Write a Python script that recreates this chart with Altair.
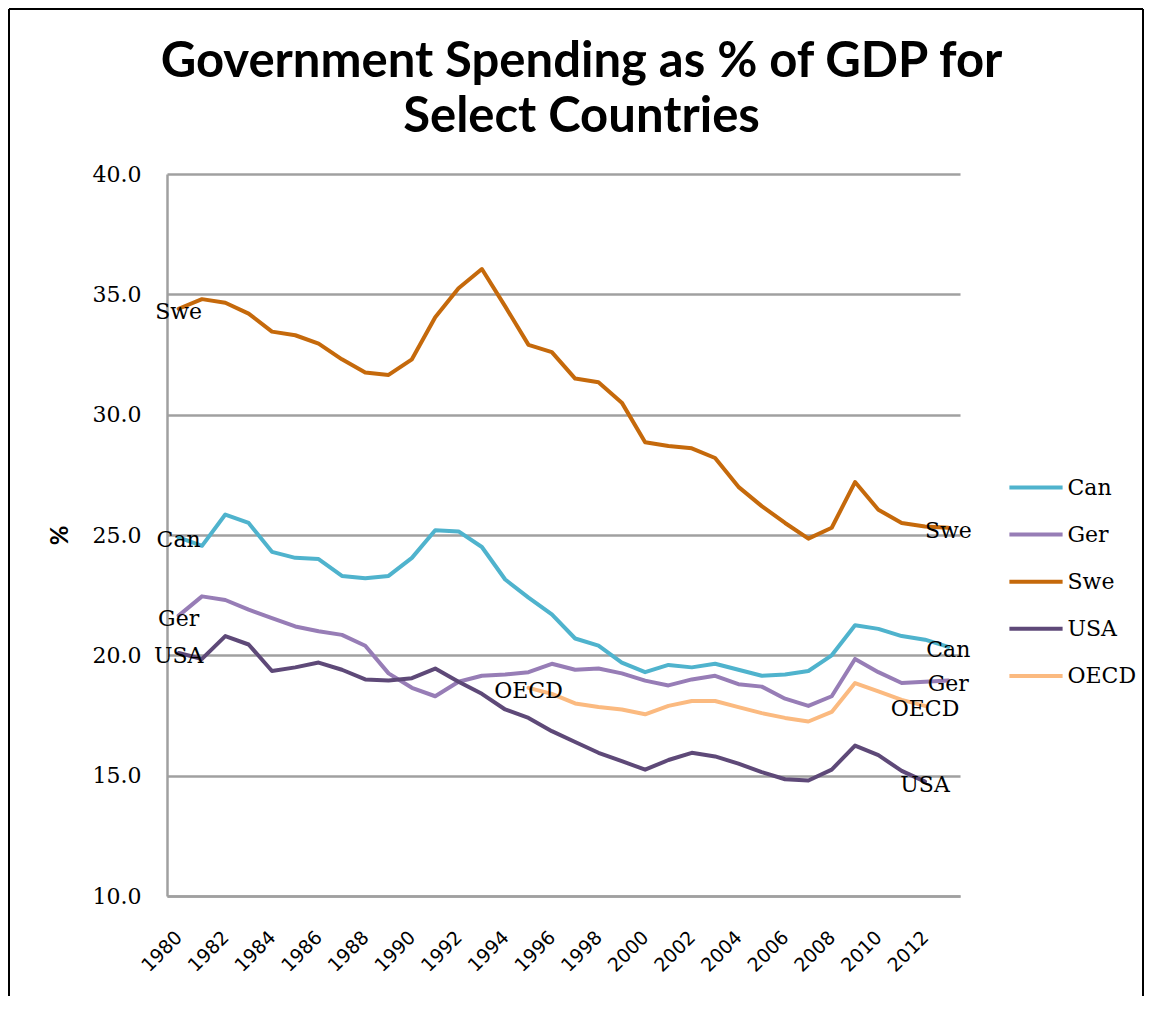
import altair as alt
import pandas as pd

years = list(range(1980, 2014))
series_names = ["Can", "Ger", "Swe", "USA", "OECD"]
series_colors = ["#4FB3CD", "#977DB6", "#C5690B", "#5E4978", "#FBBA80"]

can = [24.9, 24.55, 25.85, 25.5, 24.3, 24.05, 24.0, 23.3, 23.2, 23.3, 24.05, 25.2,
       25.15, 24.5, 23.15, 22.4, 21.7, 20.7, 20.4, 19.7, 19.3, 19.6, 19.5, 19.65,
       19.4, 19.15, 19.2, 19.35, 20.0, 21.25, 21.1, 20.8, 20.65, 20.35]
ger = [21.65, 22.45, 22.3, 21.9, 21.55, 21.2, 21.0, 20.85, 20.4, 19.25, 18.65, 18.3,
       18.9, 19.15, 19.2, 19.3, 19.65, 19.4, 19.45, 19.25, 18.95, 18.75, 19.0, 19.15,
       18.8, 18.7, 18.2, 17.9, 18.3, 19.85, 19.3, 18.85, 18.9, 18.95]
swe = [34.4, 34.8, 34.65, 34.2, 33.45, 33.3, 32.95, 32.3, 31.75, 31.65, 32.3, 34.05,
       35.25, 36.05, 34.5, 32.9, 32.6, 31.5, 31.35, 30.5, 28.85, 28.7, 28.6, 28.2,
       27.0, 26.2, 25.5, 24.85, 25.3, 27.2, 26.05, 25.5, 25.35, 25.3]
usa = [20.1, 19.85, 20.8, 20.45, 19.35, 19.5, 19.7, 19.4, 19.0, 18.95, 19.05, 19.45,
       18.9, 18.4, 17.75, 17.4, 16.85, 16.4, 15.95, 15.6, 15.25, 15.65, 15.95, 15.8,
       15.5, 15.15, 14.85, 14.8, 15.25, 16.25, 15.85, 15.2, 14.75, None]
oecd = [None] * 15 + [18.65, 18.4, 18.0, 17.85, 17.75, 17.55, 17.9, 18.1, 18.1, 17.85,
                      17.6, 17.4, 17.25, 17.65, 18.85, 18.5, 18.15, 17.9, None]

y_ticks = [10, 15, 20, 25, 30, 35, 40]
x_ticks = list(range(1980, 2013, 2))

values = {"Can": can, "Ger": ger, "Swe": swe, "USA": usa, "OECD": oecd}
rows = []
for name in series_names:
    for yr, v in zip(years, values[name]):
        if v is not None:
            rows.append({"year": yr, "value": v, "series": name})
df = pd.DataFrame(rows)

srt = df.sort_values("year")
labels_df = pd.concat([srt.groupby("series").head(1), srt.groupby("series").tail(1)])

color = alt.Color(
    "series:N",
    sort=series_names,
    scale=alt.Scale(domain=series_names, range=series_colors),
    legend=alt.Legend(
        title=None,
        orient="none",
        legendX=847,
        legendY=291.5,
        padding=0,
        symbolType="M-1.33,0H1.33",
        symbolSize=1600,
        symbolStrokeWidth=4,
        labelFont="DejaVu Serif",
        labelFontSize=22,
        labelColor="black",
        labelOffset=9.5,
        rowPadding=14.1,
    ),
)

x_enc = alt.X(
    "year:Q",
    scale=alt.Scale(domain=[1979.5, 2013.5], nice=False, zero=False),
    axis=alt.Axis(
        values=x_ticks,
        format="d",
        labelAngle=-45,
        labelAlign="right",
        labelBaseline="middle",
        labelFont="DejaVu Sans",
        labelFontSize=19,
        labelColor="black",
        labelPadding=38,
        labelFlush=False,
        labelOverlap=False,
        ticks=False,
        grid=False,
        domainColor="#A0A0A0",
        domainWidth=2.5,
        title=None,
    ),
)
y_enc = alt.Y(
    "value:Q",
    scale=alt.Scale(domain=[10, 40], nice=False, zero=False),
    axis=alt.Axis(
        values=y_ticks,
        format=".1f",
        grid=True,
        gridColor="#A0A0A0",
        gridWidth=2.5,
        ticks=False,
        domainColor="#A0A0A0",
        domainWidth=2.5,
        labelFont="DejaVu Serif",
        labelFontSize=22,
        labelColor="black",
        labelPadding=26,
        title="%",
        titleFont="Lato",
        titleFontSize=24,
        titleFontWeight="bold",
        titleColor="black",
        titlePadding=20,
    ),
)

lines = alt.Chart(df).mark_line(strokeWidth=4, strokeCap="round", strokeJoin="round").encode(
    x=x_enc, y=y_enc, color=color, detail="series:N"
)

labels = alt.Chart(labels_df).mark_text(
    font="DejaVu Serif", fontSize=22, color="black", align="center", baseline="middle", dy=3
).encode(x="year:Q", y="value:Q", text="series:N")

one = alt.Data(values=[{"k": 1}])
frame_left = alt.Chart(one).mark_rule(color="black", strokeWidth=2).encode(
    x=alt.value(-158), y=alt.value(-165), y2=alt.value(840)
)
frame_top = alt.Chart(one).mark_rule(color="black", strokeWidth=2).encode(
    x=alt.value(-158), x2=alt.value(976), y=alt.value(-165)
)
frame_right = alt.Chart(one).mark_rule(color="black", strokeWidth=2).encode(
    x=alt.value(976), y=alt.value(-165), y2=alt.value(840)
)

chart = alt.layer(lines, labels, frame_left, frame_top, frame_right).properties(
    width=793,
    height=722,
    background="white",
    autosize=alt.AutoSizeParams(type="none"),
    padding={"left": 159, "top": 166, "right": 184, "bottom": 100},
    title=alt.TitleParams(
        ["Government Spending as % of GDP for", "Select Countries"],
        font="Lato",
        fontSize=49,
        fontWeight="bold",
        color="black",
        anchor="middle",
        dx=18,
        dy=134,
        lineHeight=55,
        offset=0,
    ),
).configure_view(stroke=None)

chart.save("out.html", embed_options={"renderer": "svg", "actions": False})
